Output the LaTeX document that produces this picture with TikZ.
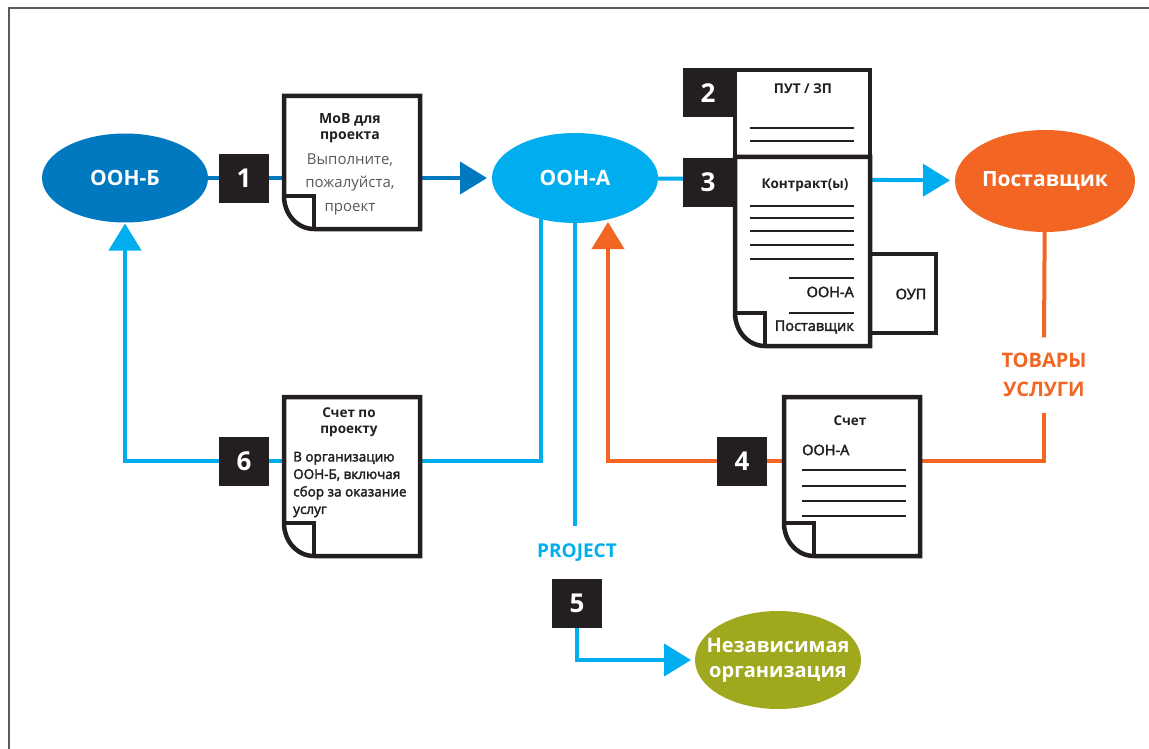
\documentclass[tikz,border=0pt]{standalone}
\usepackage{fontspec}
\setmainfont{Open Sans}
\newfontfamily\semib[FakeBold=2.5]{Open Sans}
\usetikzlibrary{shapes.geometric,arrows.meta,calc}
\pgfdeclarelayer{bg}
\pgfsetlayers{bg,main}

\definecolor{dblue}{HTML}{0079C1}
\definecolor{lblue}{HTML}{00AEEF}
\definecolor{orng}{HTML}{F26522}
\definecolor{indepgreen}{HTML}{A0A81E}
\definecolor{ink}{HTML}{231F20}
\definecolor{graytext}{HTML}{58595B}
\definecolor{framegray}{HTML}{5A5A5A}

\newcommand\fs[2]{\fontsize{#1}{#2}\selectfont}

% outline of a sheet with a curled lower-left corner
\newcommand\docoutline[1]{%
  \draw[docline] ([yshift=33pt]#1.south west) -- (#1.north west) -- (#1.north east)
    -- (#1.south east) -- ([xshift=30pt]#1.south west)
    .. controls ([xshift=13pt]#1.south west) and ([yshift=15pt]#1.south west)
    .. ([yshift=33pt]#1.south west);
  \draw[docline] ([yshift=33pt]#1.south west) -| ([xshift=30pt]#1.south west);
}

\begin{document}
\begin{tikzpicture}[x=1pt,y=-1pt,
  ell/.style={ellipse, inner xsep=-30pt, inner ysep=-10pt, outer sep=0pt, text=white,
    font=\bfseries\fs{21}{24}},
  numbox/.style={fill=ink, minimum width=50pt, minimum height=49pt, inner sep=0pt,
    text=white, font=\bfseries\fs{26}{26}},
  docbox/.style={fill=white, inner sep=0pt, outer sep=0pt},
  docline/.style={draw=ink, line width=4.5pt, line join=miter},
  rule/.style={draw=ink, line width=1.8pt},
  ttl/.style={inner sep=0pt, align=center, text=ink, font=\bfseries\fs{13.5}{16}},
  small/.style={inner sep=0pt, text=ink, font=\semib\fs{14.5}{17.5}},
  link/.style={line width=4pt},
  tip/.style={-{Triangle[length=27pt,width=32pt]}},
]
\useasboundingbox (0,0) rectangle (1149,749);
\draw[framegray, line width=2pt] (1149,8.5) -- (8.5,8.5) -- (8.5,749);

% organisations
\node[ell, fill=dblue, minimum width=166pt, minimum height=89pt] (oonb) at (125,178) {ООН-Б};
\node[ell, fill=lblue, minimum width=166pt, minimum height=90pt] (oona) at (575,178) {ООН-А};
\node[ell, fill=orng, minimum width=180pt, minimum height=102pt] (post) at (1045,181) {Поставщик};
\node[ell, fill=indepgreen, minimum width=166pt, minimum height=98pt, align=center,
  font=\bfseries\fs{20}{25}] (indep) at (778,660) {Независимая\\организация};

% step numbers
\node[numbox] (b1) at (244,178.5) {1};
\node[numbox] (b2) at (708,93) {2};
\node[numbox] (b3) at (708,182.5) {3};
\node[numbox] (b4) at (742,461) {4};
\node[numbox] (b5) at (577,603.5) {5};
\node[numbox] (b6) at (244,461) {6};

% document 1: memorandum
\node[docbox, minimum width=136pt, minimum height=133pt] (d1) at (352,162.5) {};
\docoutline{d1}
\node[ttl, font=\bfseries\fs{14}{16}] (d1t) at (350,128) {МоВ для\\проекта};
\node[inner sep=0pt, align=center, text=graytext, font=\fs{15}{23.5}] (d1b) at (350,184)
  {Выполните,\\пожалуйста,\\проект};

% document 2
\node[docbox, docline, minimum width=135pt, minimum height=87pt] (d2) at (802.5,113.5) {};
\node[ttl] (d2t) at (803,89) {ПУТ / ЗП};
\draw[rule] (750,128) -- (854,128);
\draw[rule] (750,141) -- (854,141);

% annex sheet behind the contract
\node[docbox, docline, minimum width=66pt, minimum height=79pt] (oup) at (903,293.5) {};
\node[small] (oupt) at (911,294) {ОУП};

% document 3: contract
\node[docbox, minimum width=135pt, minimum height=189pt] (d3) at (802.5,251.5) {};
\docoutline{d3}
\node[ttl] (d3t) at (805,185) {Контракт(ы)};
\foreach \yy in {206,218,231,245,259} \draw[rule] (750,\yy) -- (854,\yy);
\draw[rule] (789,278) -- (854,278);
\draw[rule] (789,313) -- (854,313);
\node[small, anchor=east] (d3a) at (854,292) {ООН-А};
\node[small, anchor=east] (d3p) at (854,327) {Поставщик};

% document 4: invoice
\node[docbox, minimum width=136pt, minimum height=159pt] (d4) at (852,476.5) {};
\docoutline{d4}
\node[ttl] (d4t) at (850,421) {Счет};
\node[small, anchor=west] (d4a) at (802,450) {ООН-А};
\foreach \yy in {470,486,501,516} \draw[rule] (802,\yy) -- (906,\yy);

% document 6: project invoice
\node[docbox, minimum width=136pt, minimum height=159pt] (d6) at (352,476.5) {};
\docoutline{d6}
\node[ttl] (d6t) at (349,422) {Счет по\\проекту};
\node[small, anchor=west, align=left, font=\semib\fs{13.5}{17.5}] (d6b) at (293,484.5)
  {В организацию\\ООН-Б, включая\\сбор за оказание\\услуг};

% free labels
\node[inner sep=0pt, minimum height=75pt, align=center, text=orng,
  font=\bfseries\fs{20}{29}] (goods) at (1044,375) {ТОВАРЫ\\УСЛУГИ};
\node[inner sep=0pt, minimum height=54pt, text=lblue, font=\bfseries\fs{19}{19}]
  (project) at (577,553) {PROJECT};

% connectors
\begin{pgfonlayer}{bg}
  \draw[link, dblue, tip, shorten >=5pt] (oonb) -- (oona);
  \draw[link, lblue, tip, shorten >=5pt] (oona) -- (post);
  \draw[link, lblue, tip, shorten >=1pt] ([xshift=-34pt]oona.center) |- (b6.center) -| (oonb.south);
  \draw[link, lblue] (oona.center |- project.north) -- (oona.center);
  \draw[link, lblue, tip, shorten >=4pt] (b5.south) |- (indep.west);
  \draw[link, orng] (post) -- (goods.north);
  \draw[link, orng, tip] (goods.south) |- (b4.center) -| ([xshift=33pt,yshift=1pt]oona.south);
\end{pgfonlayer}
\end{tikzpicture}
\end{document}
